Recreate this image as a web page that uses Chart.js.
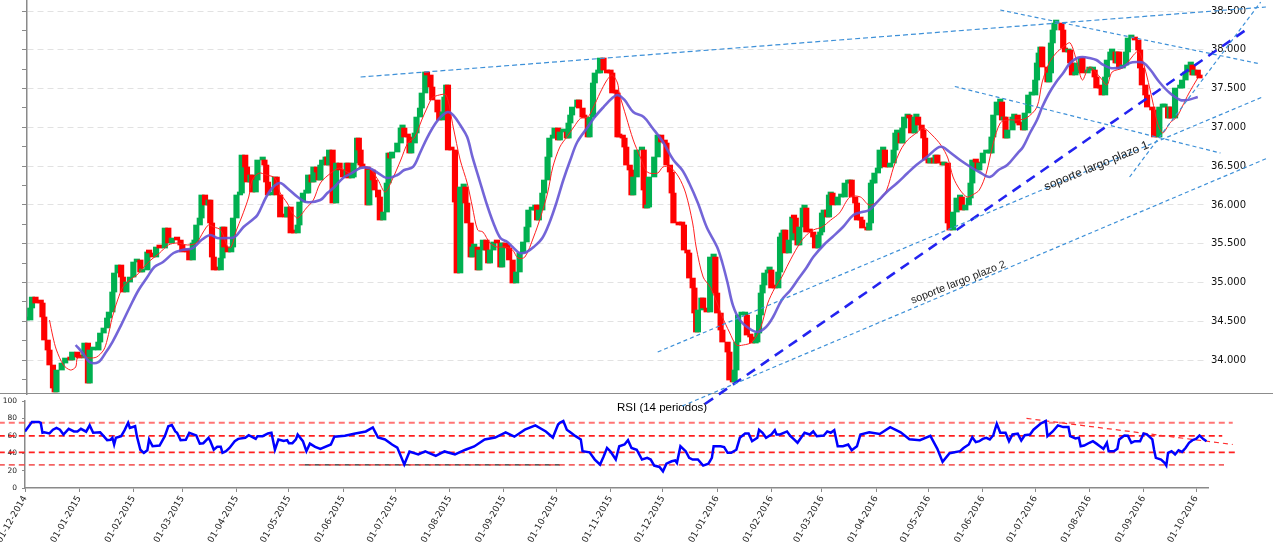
<!DOCTYPE html>
<html>
<head>
<meta charset="utf-8">
<title>Precio y RSI (14 periodos)</title>
<script src="https://cdn.jsdelivr.net/npm/chart.js@4.4.0/dist/chart.umd.min.js"></script>
<style>
  body { margin: 0; background: #fff; }
  #wrap { position: relative; width: 1273px; height: 550px; overflow: hidden; background: #fff; }
  #rsiBox { position: absolute; left: 0; top: 394px; width: 1273px; height: 156px; }
  #priceBox { position: absolute; left: 0; top: 0; width: 1273px; height: 412px; }
  #sep { position: absolute; left: 0; top: 393px; width: 1273px; height: 0; border-top: 1.5px solid #8c8c8c; }
</style>
</head>
<body>
<div id="wrap">
  <div id="rsiBox"><canvas id="rsiChart"></canvas></div>
  <div id="sep"></div>
  <div id="priceBox"><canvas id="priceChart"></canvas></div>
</div>
<script>
// Days are counted from 01-12-2014
const priceDays = [
  1, 3, 4, 6, 9, 10, 11, 13, 14, 16,
  17, 18, 21, 23, 26, 27, 30, 31, 34, 36,
  37, 39, 42, 43, 45, 47, 48, 50, 51, 53,
  55, 56, 58, 60, 62, 64, 66, 67, 70, 71,
  73, 75, 77, 80, 82, 84, 87, 89, 90, 93,
  94, 96, 97, 98, 100, 101, 103, 105, 106, 107,
  108, 110, 112, 113, 114, 116, 118, 119, 121, 123,
  124, 126, 127, 129, 130, 132, 133, 136, 137, 138,
  139, 141, 143, 144, 146, 149, 150, 152, 154, 156,
  157, 159, 161, 162, 164, 165, 167, 168, 169, 170,
  172, 173, 174, 176, 178, 180, 182, 184, 185, 187,
  188, 190, 191, 192, 193, 196, 197, 199, 200, 202,
  203, 205, 207, 208, 209, 210, 213, 215, 216, 217,
  219, 220, 221, 223, 224, 226, 227, 229, 230, 232,
  233, 236, 237, 239, 240, 241, 242, 244, 246, 247,
  249, 251, 252, 253, 255, 256, 257, 259, 260, 262,
  264, 265, 266, 268, 270, 272, 273, 275, 276, 277,
  279, 281, 283, 285, 287, 288, 290, 292, 293, 294,
  296, 297, 299, 300, 302, 303, 305, 306, 308, 310,
  311, 312, 313, 316, 317, 319, 320, 322, 323, 325,
  326, 328, 329, 331, 333, 335, 336, 338, 339, 340,
  342, 343, 344, 346, 347, 348, 350, 353, 354, 355,
  356, 357, 360, 362, 364, 366, 367, 369, 370, 371,
  374, 376, 377, 379, 380, 382, 383, 384, 385, 387,
  388, 390, 392, 394, 395, 396, 398, 399, 402, 403,
  405, 406, 407, 408, 410, 412, 413, 415, 416, 418,
  419, 420, 421, 422, 423, 425, 426, 427, 429, 431,
  432, 433, 434, 435, 437, 439, 440, 441, 442, 443,
  445, 446, 447, 449, 451, 452, 454, 455, 456, 457,
  459, 460, 461, 462, 465, 467, 469, 471, 472, 473,
  475, 476, 478, 479, 482, 483, 484, 485, 486, 488,
  489, 491, 492, 494, 495, 497, 498, 499, 501, 502,
  503, 505, 506, 507, 509, 510, 511, 513, 514, 515,
  517, 518, 520, 521, 522, 525, 526, 528, 529, 531,
  533, 535, 536, 538, 540, 541, 542, 544, 545, 546,
  548, 550, 552, 553, 554, 556, 558, 559, 560, 561,
  562, 565, 566, 568, 569, 571, 572, 574, 576, 578,
  579, 580, 581, 582, 585, 586, 587, 588, 589, 590,
  593, 594, 595, 597, 598, 599, 601, 602, 604, 605,
  608, 609, 611, 612, 613, 615, 616, 618, 619, 621,
  622, 624, 625, 626, 628, 630, 631, 633, 635, 637,
  638, 639, 641, 642, 645, 646, 648, 649, 651, 652,
  654, 655, 656, 658, 661, 662, 664, 665, 667, 668,
  669, 671, 672
];
const priceClose = [
  34516, 34671, 34812, 34735, 34735, 34555, 34258, 34129, 33936, 33639,
  33588, 33871, 33961, 34026, 34000, 34103, 34039, 34026, 34219, 33703,
  34129, 34129, 34232, 34348, 34413, 34542, 34619, 34877, 35122, 35225,
  35070, 34877, 35006, 35070, 35264, 35290, 35135, 35161, 35393, 35380,
  35328, 35457, 35444, 35702, 35509, 35573, 35547, 35483, 35393, 35393,
  35290, 35509, 35522, 35741, 35831, 36128, 35999, 36063, 35767, 35328,
  35161, 35161, 35315, 35715, 35457, 35393, 35457, 35831, 36128, 36153,
  36643, 36489, 36295, 36386, 36166, 36321, 36579, 36579, 36514, 36295,
  36128, 36153, 36360, 36128, 35844, 35844, 35973, 35638, 35638, 35741,
  36037, 36153, 36153, 36386, 36295, 36489, 36424, 36321, 36514, 36579,
  36618, 36514, 36708, 36024, 36540, 36450, 36360, 36540, 36347, 36360,
  36540, 36862, 36708, 36514, 36489, 35999, 36450, 36321, 36192, 36102,
  35805, 35908, 36282, 36669, 36605, 36682, 36798, 36992, 36992, 36876,
  36876, 36669, 36798, 36927, 37133, 37249, 37443, 37714, 37675, 37520,
  37353, 37198, 37095, 37198, 37391, 37546, 36708, 36708, 36037, 35122,
  36231, 36231, 36024, 35767, 35328, 35457, 35457, 35161, 35418, 35547,
  35418, 35251, 35418, 35522, 35509, 35199, 35509, 35457, 35444, 35290,
  34993, 35135, 35380, 35522, 35715, 35934, 35934, 35999, 35805, 35934,
  36153, 36321, 36618, 36862, 36862, 36992, 36837, 36940, 36940, 36862,
  37056, 37159, 37262, 37353, 37249, 37133, 37120, 36876, 37133, 37572,
  37701, 37701, 37894, 37739, 37701, 37701, 37443, 37443, 36876, 36876,
  36862, 36746, 36514, 36450, 36128, 36360, 36708, 36708, 36192, 35960,
  35973, 36360, 36618, 36901, 36811, 36798, 36514, 36424, 36153, 35767,
  35741, 35741, 35418, 35380, 35057, 34929, 34606, 34361, 34645, 34800,
  34671, 34619, 35328, 35328, 34864, 34606, 34387, 34232, 34103, 33742,
  33717, 33871, 34232, 34580, 34580, 34580, 34322, 34297, 34219, 34232,
  34348, 34580, 34864, 34967, 35122, 35161, 35161, 34929, 34929, 35135,
  35586, 35638, 35676, 35380, 35547, 35844, 35831, 35638, 35483, 35715,
  35960, 35960, 35651, 35651, 35586, 35444, 35612, 35651, 35896, 35934,
  35844, 36128, 36153, 35999, 36102, 36102, 36282, 36282, 36321, 36102,
  36024, 35805, 35805, 35702, 35676, 35767, 36282, 36282, 36411, 36476,
  36708, 36708, 36489, 36489, 36540, 36708, 36927, 36927, 36798, 36992,
  37133, 37133, 37120, 36927, 37133, 37133, 37030, 36966, 36862, 36579,
  36540, 36605, 36540, 36643, 36540, 36514, 36540, 35767, 35676, 35908,
  36089, 36102, 35934, 35999, 36089, 36282, 36579, 36553, 36450, 36540,
  36669, 36669, 36669, 36876, 37159, 37327, 37327, 37095, 37133, 36862,
  36966, 37133, 37159, 37056, 37030, 36966, 37185, 37417, 37417, 37610,
  37830, 37959, 38036, 37778, 37585, 37701, 38088, 38255, 38345, 38345,
  38255, 38023, 37972, 37997, 37830, 37675, 37701, 37830, 37894, 37701,
  37739, 37739, 37739, 37649, 37507, 37507, 37417, 37649, 37868, 37972,
  37972, 37830, 37972, 37765, 37804, 37972, 38152, 38152, 38126, 37997,
  37765, 37546, 37417, 37262, 37224, 36876, 36876, 37262, 37262, 37262,
  37120, 37262, 37120, 37507, 37507, 37610, 37714, 37804, 37804, 37675,
  37739, 37675, 37636
];

// short moving average (thin red)
const fastMaDays = [
  14, 16, 18, 22, 26, 29, 30, 33, 37, 41,
  45, 47, 50, 53, 56, 60, 64, 68, 72, 77,
  82, 87, 93, 98, 102, 105, 108, 112, 116, 118,
  121, 124, 128, 130, 134, 138, 143, 146, 150, 153,
  156, 161, 165, 169, 175, 180, 186, 192, 197, 202,
  206, 210, 215, 219, 223, 227, 230, 233, 237, 241,
  245, 249, 253, 256, 259, 262, 266, 270, 275, 279,
  282, 286, 291, 295, 299, 302, 306, 310, 314, 318,
  322, 325, 329, 333, 336, 339, 340, 344, 348, 352,
  356, 362, 365, 369, 374, 378, 382, 384, 388, 392,
  396, 399, 403, 407, 411, 416, 421, 425, 429, 433,
  437, 442, 446, 451, 456, 461, 466, 472, 478, 483,
  489, 493, 497, 501, 505, 510, 514, 519, 524, 528,
  531, 535, 539, 542, 546, 550, 554, 558, 562, 568,
  573, 579, 582, 586, 590, 594, 598, 602, 605, 609,
  615, 619, 622, 628, 632, 636, 638, 642, 645, 648,
  651, 655, 659, 662, 666, 671
];
const fastMa = [
  34516, 34297, 34129, 33936, 33871, 33910, 34026, 34039, 34026, 34039,
  34129, 34258, 34555, 34774, 34942, 35032, 35096, 35199, 35290, 35380,
  35483, 35509, 35483, 35509, 35651, 35741, 35715, 35676, 35457, 35457,
  35676, 35844, 36102, 36321, 36411, 36386, 36347, 36153, 36024, 35895,
  35831, 35960, 36063, 36282, 36411, 36476, 36411, 36489, 36476, 36321,
  36166, 36321, 36579, 36798, 36876, 37095, 37249, 37378, 37417, 37417,
  37004, 36579, 36282, 35973, 35676, 35651, 35509, 35457, 35457, 35418,
  35315, 35328, 35586, 35844, 36153, 36489, 36746, 36876, 37004, 37120,
  37133, 37249, 37443, 37610, 37675, 37572, 37443, 37133, 36837, 36618,
  36424, 36411, 36489, 36489, 36360, 36153, 35767, 35457, 35070, 34942,
  34735, 34555, 34361, 34194, 34194, 34232, 34426, 34735, 34929, 35070,
  35251, 35457, 35586, 35676, 35715, 35805, 35896, 36102, 36102, 35999,
  36063, 36192, 36489, 36708, 36837, 36927, 36992, 36901, 36772, 36605,
  36360, 36192, 36102, 36128, 36192, 36411, 36798, 37056, 37095, 37095,
  37120, 37262, 37585, 37830, 37959, 38036, 38088, 37830, 37610, 37778,
  37649, 37546, 37714, 37765, 37868, 37972, 37959, 37649, 37353, 37056,
  36927, 37056, 37133, 37262, 37443, 37636
];

// long moving average (thick purple)
const slowMaDays = [
  29, 33, 37, 42, 46, 50, 55, 60, 65, 70,
  74, 79, 85, 90, 96, 101, 106, 110, 116, 120,
  125, 130, 133, 138, 142, 146, 150, 156, 161, 169,
  173, 177, 182, 187, 192, 197, 202, 207, 213, 217,
  222, 226, 230, 235, 239, 242, 245, 249, 253, 256,
  260, 264, 268, 272, 276, 279, 283, 287, 291, 296,
  300, 304, 308, 312, 316, 322, 326, 331, 336, 339,
  343, 348, 354, 359, 365, 371, 376, 380, 385, 390,
  396, 399, 402, 405, 409, 414, 419, 424, 428, 433,
  438, 442, 447, 451, 457, 462, 468, 474, 479, 483,
  487, 493, 499, 505, 510, 516, 522, 525, 529, 535,
  541, 546, 552, 557, 562, 568, 571, 575, 579, 582,
  586, 590, 594, 598, 602, 605, 609, 613, 617, 621,
  625, 628, 632, 636, 640, 644, 649, 655, 661, 665,
  671
];
const slowMa = [
  34194, 34090, 33974, 33974, 34090, 34232, 34451, 34684, 34903, 35070,
  35199, 35264, 35380, 35418, 35444, 35547, 35612, 35573, 35573, 35586,
  35715, 35805, 35870, 36102, 36231, 36282, 36218, 36102, 36037, 36063,
  36153, 36231, 36347, 36411, 36476, 36476, 36411, 36347, 36386, 36450,
  36489, 36669, 36862, 37056, 37159, 37198, 37159, 37030, 36876, 36618,
  36321, 36024, 35767, 35573, 35522, 35457, 35380, 35393, 35457, 35573,
  35767, 36024, 36321, 36579, 36811, 37004, 37133, 37262, 37378, 37417,
  37353, 37198, 37133, 36992, 36811, 36579, 36450, 36282, 36024, 35715,
  35457, 35251, 34993, 34709, 34516, 34413, 34361, 34426, 34555, 34774,
  34903, 35032, 35187, 35328, 35483, 35586, 35715, 35870, 35908, 35934,
  36024, 36166, 36282, 36411, 36514, 36618, 36734, 36746, 36682, 36579,
  36489, 36424, 36360, 36450, 36514, 36669, 36746, 36927, 37095, 37262,
  37443, 37585, 37701, 37830, 37894, 37907, 37894, 37868, 37804, 37765,
  37765, 37778, 37830, 37842, 37830, 37739, 37585, 37443, 37353, 37353,
  37391
];

// RSI (14 periodos)
const rsiDays = [
  0, 4, 8, 9, 10, 11, 14, 16, 18, 20,
  22, 25, 28, 30, 32, 35, 37, 39, 43, 45,
  47, 49, 50, 51, 52, 55, 57, 59, 60, 63,
  64, 66, 68, 70, 71, 73, 77, 80, 82, 84,
  86, 87, 89, 92, 94, 96, 98, 100, 102, 105,
  106, 108, 110, 112, 113, 115, 117, 120, 122, 126,
  128, 132, 133, 136, 139, 141, 143, 145, 148, 150,
  151, 153, 155, 156, 159, 161, 163, 166, 169, 175,
  177, 183, 189, 195, 199, 202, 206, 210, 213, 217,
  220, 225, 229, 235, 240, 246, 252, 257, 263, 269,
  275, 280, 286, 292, 298, 302, 305, 306, 308, 310,
  312, 315, 318, 319, 323, 326, 329, 331, 333, 335,
  338, 340, 343, 345, 347, 350, 353, 356, 358, 360,
  363, 365, 367, 370, 372, 373, 375, 378, 380, 382,
  385, 388, 391, 393, 394, 398, 400, 402, 404, 407,
  409, 412, 414, 416, 419, 420, 422, 424, 427, 429,
  430, 432, 436, 438, 440, 442, 444, 446, 449, 451,
  453, 457, 459, 461, 463, 465, 468, 471, 473, 476,
  478, 483, 489, 495, 501, 506, 512, 518, 522, 525,
  529, 535, 537, 540, 542, 544, 546, 548, 550, 552,
  554, 556, 558, 561, 563, 565, 568, 570, 572, 575,
  577, 581, 584, 585, 588, 591, 594, 597, 598, 601,
  603, 604, 606, 609, 611, 613, 615, 617, 619, 620,
  623, 625, 626, 629, 631, 633, 635, 638, 640, 642,
  645, 646, 647, 650, 652, 653, 654, 656, 658, 660,
  662, 664, 666, 668, 670, 672, 674, 676
];
const rsiValues = [
  65, 76, 76, 75, 63.5, 64, 62.7, 67, 69, 67,
  61.5, 68, 65, 65, 68, 64.7, 72, 63.5, 64, 59.6,
  55, 55.5, 57.7, 50, 57.7, 59.6, 66.5, 75, 69, 71,
  59.6, 44, 40.4, 43.4, 55.8, 48, 48.8, 59.6, 71, 72.3,
  65, 63.5, 55, 55.5, 63.5, 62, 60.4, 51, 51.5, 57.7,
  54, 44, 47.3, 47.3, 40.4, 42.3, 46, 53.8, 56.5, 57.7,
  60.7, 56.5, 59.6, 59.6, 62.7, 63.5, 44, 55.8, 54, 55,
  51.5, 51.5, 55.8, 61.5, 53.8, 42.3, 51, 47.3, 45, 50,
  59, 60, 62.7, 65, 69.6, 58, 55.8, 50, 46.5, 27,
  42, 38.5, 42, 37, 42, 38.5, 44, 47.7, 55.8, 58,
  63.9, 59, 67, 72, 65, 58, 73, 75, 77, 67,
  64, 59.6, 55.8, 42.3, 41, 32.7, 27, 36, 46, 42,
  32.7, 48, 50, 55, 46, 44, 32.7, 34.6, 32.7, 25.8,
  24.2, 19.2, 28, 30.7, 31.6, 28.8, 48, 42.3, 34.6, 32.7,
  32.7, 25.8, 28, 34.6, 48, 48, 47, 40.4, 40.4, 44,
  57.7, 62.7, 62.7, 53.8, 57.7, 67, 63.5, 57.7, 61.5, 66.5,
  61.5, 61.5, 65, 59.6, 55.8, 52, 57.7, 63.5, 61.5, 65,
  59.6, 60.4, 65, 63.5, 66.5, 48, 48, 50, 43.4, 48,
  61.5, 64, 62, 70, 64, 56, 55, 60, 45, 30,
  40, 42.3, 46, 50, 58.4, 52.7, 53.8, 56.5, 57.7, 55.8,
  60.7, 73.9, 63.5, 63.5, 53.8, 61.5, 62.4, 54.6, 60.7, 61.5,
  67, 73.9, 77, 59.6, 65, 72, 70, 70, 59.6, 57,
  57.7, 48, 48.8, 52, 53.8, 51, 48, 45, 52, 42.3,
  42.3, 45, 55.8, 60.4, 60, 52, 53.8, 53.8, 62.7, 61.5,
  55.8, 44, 34.6, 32.7, 28.9, 25.8, 40.4, 42.3, 38.5, 43.4,
  41.5, 46, 52, 55, 56.5, 60.4, 56.5, 53.8
];

const monthLabels = [
  '01-12-2014', '01-01-2015', '01-02-2015', '01-03-2015', '01-04-2015', '01-05-2015',
  '01-06-2015', '01-07-2015', '01-08-2015', '01-09-2015', '01-10-2015', '01-11-2015',
  '01-12-2015', '01-01-2016', '01-02-2016', '01-03-2016', '01-04-2016', '01-05-2016',
  '01-06-2016', '01-07-2016', '01-08-2016', '01-09-2016', '01-10-2016'
];
const priceTicks = [34000, 34500, 35000, 35500, 36000, 36500, 37000, 37500, 38000, 38500];
const rsiTicks = [0, 20, 40, 60, 80, 100];

// trend lines drawn on the price panel: [day, value] at each end
const upperResist = [[192, 37649], [710, 38552]];
const fallTop = [[558, 38513], [707, 37817]];
const fallMid = [[532, 37527], [684, 36669]];
const mainSupport = [[389, 33433], [701, 38294]];
const supportOne = [[362, 34103], [708, 37391]];
const supportTwo = [[376, 33407], [711, 36605]];
const steepSupport = [[632, 36360], [707, 38616]];

// RSI reference lines
const rsiLevel75 = [[-15, 75], [691, 75]];
const rsiLevel60 = [[-15, 60], [685, 60]];
const rsiLevel41 = [[-15, 41], [693, 41]];
const rsiLevel26 = [[-15, 26.5], [686, 26.5]];
const rsiLevel26Dark = [[160, 26.5], [306, 26.5]];
const rsiTrend = [[573, 80], [691, 50]];

const PRICE_MIN = 33562, PRICE_MAX = 38642;
const UP = '#00b050', DOWN = '#ff0000';

function dayOf(label) {
  const [d, m, y] = label.split('-').map(Number);
  return Math.round((Date.UTC(y, m - 1, d) - Date.UTC(2014, 11, 1)) / 86400000);
}
const monthDays = monthLabels.map(dayOf);

const pairs = (days, vals) => days.map((d, i) => ({ x: d, y: vals[i] }));
const seg = pts => pts.map(p => ({ x: p[0], y: p[1] }));

// candles: open is the previous close
const candleData = priceDays.map((d, i) => ({ x: d, y: [i ? priceClose[i - 1] : priceClose[0], priceClose[i]] }));
const candleColors = [];
priceClose.forEach((c, i) => {
  const o = i ? priceClose[i - 1] : c;
  if (c > o) candleColors.push(UP);
  else if (c < o) candleColors.push(DOWN);
  else candleColors.push(i ? candleColors[i - 1] : UP);
});

function trend(points, color, width, dash) {
  return {
    type: 'line', data: seg(points), borderColor: color, borderWidth: width,
    borderDash: dash, pointRadius: 0, tension: 0, clip: false, order: 1
  };
}

// rotated / free text drawn at data coordinates
const textNotes = {
  id: 'textNotes',
  afterDatasetsDraw(chart, args, opts) {
    const { ctx, scales } = chart;
    (opts.items || []).forEach(n => {
      const x = scales.x.getPixelForValue(n.day);
      const y = scales.y.getPixelForValue(n.value);
      ctx.save();
      ctx.translate(x, y);
      ctx.rotate(n.angle * Math.PI / 180);
      ctx.font = n.font;
      ctx.fillStyle = n.color;
      ctx.textAlign = 'center';
      ctx.textBaseline = 'middle';
      ctx.fillText(n.text, 0, 0);
      ctx.restore();
    });
  }
};

const thinBlue = '#3d90d8';

new Chart(document.getElementById('priceChart'), {
  type: 'bar',
  data: {
    datasets: [
      trend(upperResist, thinBlue, 1.2, [5, 3]),
      trend(fallTop, thinBlue, 1.2, [4, 3]),
      trend(fallMid, thinBlue, 1.2, [4, 3]),
      trend(supportOne, thinBlue, 1.2, [4, 3]),
      trend(supportTwo, thinBlue, 1.2, [4, 3]),
      trend(steepSupport, thinBlue, 1.2, [4, 3]),
      trend(mainSupport, '#2323f0', 2.6, [10, 7]),
      {
        type: 'line', data: pairs(slowMaDays, slowMa), borderColor: 'rgba(100, 84, 212, 0.9)',
        borderWidth: 2.6, pointRadius: 0, tension: 0.35, order: 3
      },
      {
        type: 'line', data: pairs(fastMaDays, fastMa), borderColor: '#ff2020',
        borderWidth: 1, pointRadius: 0, tension: 0.3, order: 4
      },
      {
        type: 'bar', data: candleData, backgroundColor: candleColors, borderWidth: 0,
        barThickness: 5.5, minBarLength: 3, grouped: false, order: 5
      }
    ]
  },
  options: {
    responsive: true,
    maintainAspectRatio: false,
    animation: false,
    events: [],
    layout: { padding: { top: 0, right: 0, bottom: 18, left: 0 } },
    plugins: {
      legend: { display: false },
      tooltip: { enabled: false },
      textNotes: {
        items: [
          { text: 'soporte largo plazo 1', day: 613, value: 36500, angle: -22.5, font: '12px "Liberation Sans"', color: '#222' },
          { text: 'soporte largo plazo 2', day: 534, value: 35000, angle: -21.6, font: '10.8px "Liberation Sans"', color: '#222' }
        ]
      }
    },
    scales: {
      x: { type: 'linear', display: false, min: 1.144, max: 675.14, offset: false, grid: { offset: false } },
      y: {
        position: 'left', min: PRICE_MIN, max: PRICE_MAX,
        afterFit: s => { s.width = 27; s.paddingTop = 0; s.paddingBottom = 0; },
        ticks: { display: false, stepSize: 250, includeBounds: false },
        grid: {
          color: c => (c.tick && c.tick.value % 500 === 0) ? '#e2e2e2' : 'rgba(0,0,0,0)',
          tickColor: '#8a8a8a', tickLength: 5, lineWidth: 1
        },
        border: { color: '#8a8a8a', width: 1.5, dash: [6, 4] }
      },
      yR: {
        position: 'right', min: PRICE_MIN, max: PRICE_MAX,
        afterBuildTicks: s => { s.ticks = priceTicks.map(v => ({ value: v })); },
        afterFit: s => { s.width = 68; s.paddingTop = 0; s.paddingBottom = 0; },
        ticks: {
          padding: 6, color: '#111', font: { family: 'DejaVu Sans', size: 10 },
          callback: v => (v / 1000).toFixed(3)
        },
        grid: { display: false, drawTicks: false },
        border: { display: false }
      }
    }
  },
  plugins: [textNotes]
});

function level(points, color, width) {
  return {
    data: seg(points), borderColor: color, borderWidth: width, borderDash: [6, 4],
    pointRadius: 0, tension: 0, clip: false, order: 2
  };
}

new Chart(document.getElementById('rsiChart'), {
  type: 'line',
  data: {
    datasets: [
      {
        data: pairs(rsiDays, rsiValues), borderColor: '#0000ff', borderWidth: 2.5,
        pointRadius: 0, tension: 0, order: 0
      },
      level(rsiLevel75, 'rgba(255, 70, 70, 0.75)', 1.8),
      level(rsiLevel60, '#ff2020', 1.8),
      level(rsiLevel41, '#ff2020', 1.8),
      level(rsiLevel26, 'rgba(240, 60, 60, 0.8)', 1.8),
      level(rsiLevel26Dark, '#222', 1.2),
      {
        data: seg(rsiTrend), borderColor: '#ff3030', borderWidth: 1.2, borderDash: [5, 4],
        pointRadius: 0, tension: 0, clip: false, order: 1
      }
    ]
  },
  options: {
    responsive: true,
    maintainAspectRatio: false,
    animation: false,
    events: [],
    layout: { padding: { top: 7, right: 65, bottom: 0, left: 0 } },
    plugins: {
      legend: { display: false },
      tooltip: { enabled: false },
      textNotes: {
        items: [
          { text: 'RSI (14 periodos)', day: 364.5, value: 92.5, angle: 0, font: '11.5px "Liberation Sans"', color: '#000' }
        ]
      }
    },
    scales: {
      x: {
        type: 'linear', min: 0, max: 676.85, offset: false,
        afterBuildTicks: s => { s.ticks = monthDays.map(v => ({ value: v })); },
        afterFit: s => { s.height = 62; s.paddingLeft = 0; s.paddingRight = 0; },
        ticks: {
          autoSkip: false, minRotation: 60, maxRotation: 60, padding: 2, color: '#222',
          font: { family: 'DejaVu Sans', size: 9 },
          callback: v => monthLabels[monthDays.indexOf(v)]
        },
        grid: { drawOnChartArea: false, tickLength: 4, tickColor: '#8a8a8a' },
        border: { color: '#8a8a8a', width: 1.5 }
      },
      y: {
        min: 0, max: 100,
        afterBuildTicks: s => { s.ticks = rsiTicks.map(v => ({ value: v })); },
        afterFit: s => { s.width = 25; s.paddingTop = 0; s.paddingBottom = 0; },
        ticks: { padding: 5, color: '#222', font: { family: 'DejaVu Sans', size: 7.5 } },
        grid: { drawOnChartArea: false, tickLength: 3, tickColor: '#8a8a8a' },
        border: { color: '#8a8a8a', width: 1.5 }
      }
    }
  },
  plugins: [textNotes]
});
</script>
</body>
</html>
